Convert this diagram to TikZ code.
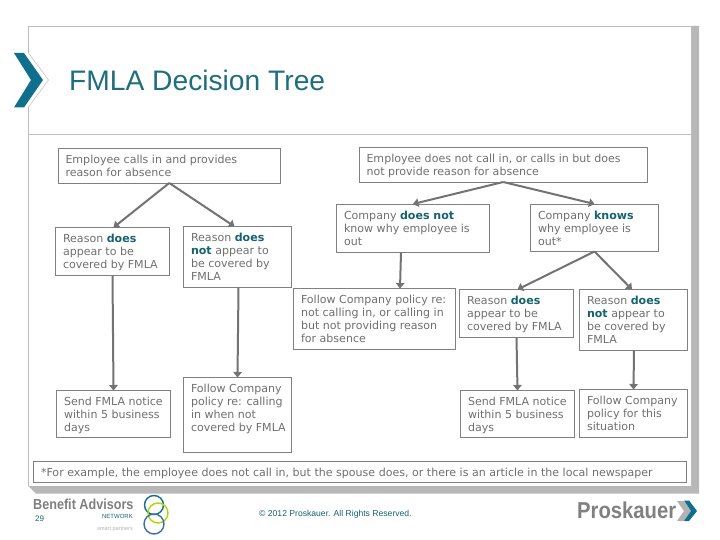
\documentclass[tikz,border=0pt]{standalone}
\usepackage{fontspec}
\usepackage{graphicx}
\setmainfont{DejaVu Sans}
\newfontfamily\arialf{Liberation Sans}
\usetikzlibrary{arrows.meta}
\definecolor{tealtitle}{HTML}{1F6E80}
\definecolor{tealbold}{HTML}{15636F}
\definecolor{txtgray}{HTML}{707070}
\definecolor{boxgray}{HTML}{808080}
\definecolor{framegray}{HTML}{BDBDBD}
\definecolor{shadowgray}{HTML}{B8B8B8}
\definecolor{chevteal}{HTML}{0F6F8C}
\tikzset{
  boxnode/.style={draw=boxgray,line width=0.9pt,inner sep=0pt,outer sep=0pt,anchor=north west,text=txtgray,font=\fontsize{11.05}{13}\selectfont},
  conn/.style={draw=boxgray!90!black,line width=2pt,-{Triangle[length=5.5pt,width=8.5pt]}},
  frameline/.style={draw=framegray,line width=1pt}
}
\newcommand{\hl}[1]{\textbf{\textcolor{tealbold}{#1}}}
\newcommand{\bx}[6]{%
  \pgfmathsetlengthmacro{\bxw}{(#4)-(#2)}%
  \pgfmathsetlengthmacro{\bxh}{(#5)-(#3)}%
  \node[boxnode,minimum width=\bxw,minimum height=\bxh] (#1) at (#2,#3) {\hspace*{7.5pt}\parbox[b][\bxh][t]{\dimexpr\bxw-7.5pt\relax}{\baselineskip=13pt\rule{0pt}{15pt}#6}};}
\begin{document}
\begin{tikzpicture}[x=1pt,y=-1pt]
\useasboundingbox (0,0) rectangle (720,540);
\fill[white] (0,0) rectangle (720,540);
% shadow
\fill[shadowgray] (692,26) -- (699,26) -- (699,493.5) -- (36,493.5) -- (28.5,486) -- (692,486) -- cycle;
% frame
\draw[frameline] (28.5,53) -- (28.5,26.5) -- (691.5,26.5) -- (691.5,486);
\draw[frameline] (28.5,107) -- (28.5,486);
\draw[frameline] (28.5,134.5) -- (691.5,134.5);
% chevron
\draw[draw=framegray,line width=0.5pt] (28.5,53) -- (48.5,80) -- (28.5,107);
\fill[chevteal] (14,53) -- (24,53) -- (43,80) -- (24,107.5) -- (14,107.5) -- (31,80) -- cycle;
\node[anchor=base west,inner sep=0pt,text=tealtitle,font=\arialf\fontsize{28.2}{32}\selectfont] (title) at (69,90.5) {FMLA Decision Tree};
% boxes
\bx{calls}{58}{148.5}{280.5}{183}{Employee calls in and provides\\reason for absence}
\bx{nocall}{359}{147.5}{647.5}{182}{Employee does not call in, or calls in but does\\not provide reason for absence}
\bx{reasonL}{55.5}{227.5}{169.5}{275.5}{Reason \hl{does}\\appear to be\\covered by FMLA}
\bx{notL}{183.5}{226.5}{291.5}{287.5}{Reason \hl{does}\\\hl{not} appear to\\be covered by\\FMLA}
\bx{dknow}{336.5}{204}{489.5}{252.5}{Company \hl{does not}\\know why employee is\\out}
\bx{knows}{530.5}{204}{658.5}{251.5}{Company \hl{knows}\\why employee is\\out*}
\bx{policy}{293.5}{288.5}{455.5}{349.5}{Follow Company policy re:\\not calling in, or calling in\\but not providing reason\\for absence}
\bx{reasonR}{459.5}{289.5}{573.5}{337.5}{Reason \hl{does}\\appear to be\\covered by FMLA}
\bx{notR}{579.5}{289.5}{687.5}{350.5}{Reason \hl{does}\\\hl{not} appear to\\be covered by\\FMLA}
\bx{sendL}{56.5}{390.5}{170.5}{437.5}{Send FMLA notice\\within 5 business\\days}
\bx{followL}{183.5}{377.5}{291.5}{452.5}{Follow Company\\policy re: calling\\in when not\\covered by FMLA}
\bx{sendR}{460.5}{390.5}{574.5}{437.5}{Send FMLA notice\\within 5 business\\days}
\bx{followR}{579.5}{389.5}{687.5}{437.5}{Follow Company\\policy for this\\situation}
\bx{foot}{33.5}{461.5}{686.5}{482.5}{*For example, the employee does not call in, but the spouse does, or there is an article in the local newspaper}
% connectors
\draw[conn] (calls.south) -- ([xshift=1pt]reasonL.north);
\draw[conn] (calls.south) -- ([xshift=-3pt]notL.north);
\draw[conn] (nocall.south) -- (dknow.north);
\draw[conn] (nocall.south) -- (knows.north);
\draw[conn] ([xshift=-12pt]dknow.south) -- ([xshift=25.5pt]policy.north);
\draw[conn] (knows.south) -- ([xshift=1pt]reasonR.north);
\draw[conn] (knows.south) -- ([xshift=-1.5pt]notR.north);
\draw[conn] (reasonL.south) -- (sendL.north);
\draw[conn] ([xshift=1pt]notL.south) -- (followL.north);
\draw[conn] (reasonR.south) -- (sendR.north);
\draw[conn] ([xshift=0.5pt]notR.south) -- (followR.north);
% footer
\node[anchor=base west,inner sep=0pt,text=gray,font=\arialf\bfseries\fontsize{14.5}{16}\selectfont] (ba) at (33,509.5) {\scalebox{.87}[1]{Benefit Advisors}};
\node[anchor=base east,inner sep=0pt,text=tealbold,font=\arialf\fontsize{6}{7}\selectfont] (net) at (133,518.5) {NETWORK};
\node[anchor=base east,inner sep=0pt,text=gray!60,font=\arialf\fontsize{5.5}{6}\selectfont] (sp) at (133,530) {smart partners};
\node[anchor=base west,inner sep=0pt,text=tealbold,font=\arialf\fontsize{8}{9}\selectfont] (pg) at (35,521.5) {29};
\draw[color=chevteal,line width=1.4pt] (154,505) circle (9.5);
\draw[color=lime!70!olive,line width=1.4pt] (158,513) circle (10);
\draw[color=cyan!60!blue!70!black,line width=1.4pt] (154,524) circle (10);
\node[anchor=base west,inner sep=0pt,text=tealbold,font=\arialf\fontsize{8.6}{10}\selectfont] (copy) at (259,516) {© 2012 Proskauer. All Rights Reserved.};
\node[anchor=base west,inner sep=0pt,text=gray,font=\arialf\bfseries\fontsize{23}{25}\selectfont] (pk) at (577,518.5) {\scalebox{.88}[1]{Proskauer}};
\fill[gray!60] (677,501) -- (684,501) -- (691,511) -- (684,521) -- (677,521) -- (684,511) -- cycle;
\fill[chevteal] (684,500.5) -- (689,500.5) -- (697,511) -- (689,521) -- (684,521) -- (691,511) -- cycle;
\end{tikzpicture}
\end{document}
